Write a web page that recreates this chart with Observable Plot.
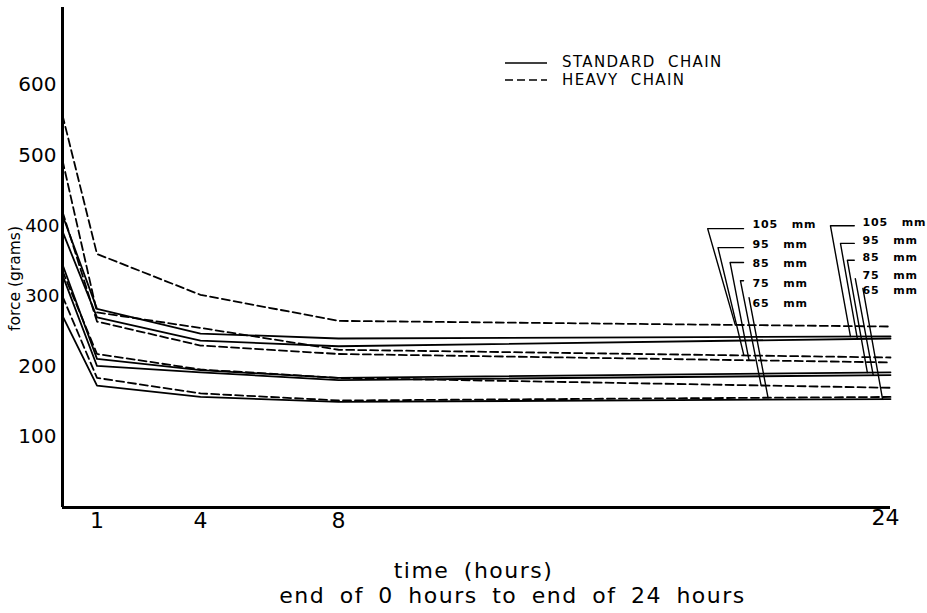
<!DOCTYPE html>
<html>
<head>
<meta charset="utf-8">
<script src="https://cdn.jsdelivr.net/npm/d3@7"></script>
<script src="https://cdn.jsdelivr.net/npm/@observablehq/plot@0.6"></script>
<style>
  body { margin: 0; background: #fff; }
  #wrap { position: relative; width: 927px; height: 613px; background: #fff; }
  .legtxt { position: absolute; font-family: "DejaVu Sans", sans-serif; font-size: 15px; letter-spacing: 1.4px; line-height: 16px; white-space: pre; color: #000; }
  .legline { position: absolute; }
</style>
</head>
<body>
<div id="wrap">
  <svg class="legline" style="left:505px;top:61px" width="44" height="4"><line x1="0" y1="2" x2="42" y2="2" stroke="#000" stroke-width="1.6"/></svg>
  <div class="legtxt" style="left:562px;top:54px">STANDARD  CHAIN</div>
  <svg class="legline" style="left:505px;top:78px" width="44" height="4"><line x1="0" y1="2" x2="42" y2="2" stroke="#000" stroke-width="1.6" stroke-dasharray="8,4"/></svg>
  <div class="legtxt" style="left:562px;top:72px">HEAVY  CHAIN</div>
</div>
<script>
// ---- data ----
const hours = [0, 1, 4, 8, 24];
const xTicks = [1, 4, 8];
const xTicksEnd = [24];
const yTicksOuter = [100, 200, 500, 600];
const yTicksInner = [300, 400];
const sizeLabels = ["105 mm", "95 mm", "85 mm", "75 mm", "65 mm"];

// standard chain (solid), force in grams at 0,1,4,8,24 h
const std105 = [415, 282, 247, 240, 243];
const std95  = [392, 270, 237, 229, 240];
const std85  = [345, 211, 195, 184, 192];
const std75  = [330, 201, 192, 181, 188];
const std65  = [272, 173, 157, 150, 154];

// heavy chain (dashed)
const hvy105 = [557, 360, 302, 265, 257];
const hvy95  = [493, 277, 255, 224, 213];
const hvy85  = [420, 264, 230, 218, 206];
const hvy75  = [336, 218, 196, 184, 170];
const hvy65  = [300, 184, 162, 152, 157];

// size-label annotations (hours, grams)
const hvyTextHour = 20.0;
const hvyTextForce = [402, 373, 346, 318, 290];
const hvyLeadForce = [396, 369, 348, 322, 298];
const hvyLeadStart = [19.74, 19.74, 19.74, 19.74, 19.9];
const hvyLeadCorner = [18.7, 19.0, 19.35, 19.65, 19.9];
const hvyLeadEnd = [19.5, 19.75, 19.9, 20.25, 20.45];

const stdTextHour = 23.19;
const stdTextForce = [405, 379, 355, 329, 308];
const stdLeadForce = [400, 375, 351, 325, 311];
const stdLeadStart = [22.95, 22.95, 22.95, 22.98, 23.2];
const stdLeadCorner = [22.26, 22.55, 22.75, 22.98, 23.2];
const stdLeadEnd = [22.84, 23.04, 23.33, 23.5, 23.77];

// ---- build tables ----
const standardSeries = [std105, std95, std85, std75, std65];
const heavySeries = [hvy105, hvy95, hvy85, hvy75, hvy65];

function toRows(series, chain) {
  const rows = [];
  series.forEach((vals, i) => vals.forEach((v, j) =>
    rows.push({chain, size: sizeLabels[i], hour: hours[j], force: v})));
  return rows;
}
const stdRows = toRows(standardSeries, "Standard chain");
const hvyRows = toRows(heavySeries, "Heavy chain");

function leaders(series, leadForce, start, corner, end) {
  const pts = [];
  sizeLabels.forEach((s, i) => {
    const v = series[i];
    const h = end[i];
    const fEnd = v[3] + (v[4] - v[3]) * (h - hours[3]) / (hours[4] - hours[3]);
    pts.push({id: s, hour: start[i], force: leadForce[i]},
             {id: s, hour: corner[i], force: leadForce[i]},
             {id: s, hour: h, force: fEnd});
  });
  return pts;
}
const hvyLeaders = leaders(heavySeries, hvyLeadForce, hvyLeadStart, hvyLeadCorner, hvyLeadEnd);
const stdLeaders = leaders(standardSeries, stdLeadForce, stdLeadStart, stdLeadCorner, stdLeadEnd);

const nb = "\u00a0\u00a0\u00a0";
const hvyLabels = sizeLabels.map((s, i) => ({text: s.replace(" ", nb), hour: hvyTextHour, force: hvyTextForce[i]}));
const stdLabels = sizeLabels.map((s, i) => ({text: s.replace(" ", nb), hour: stdTextHour, force: stdTextForce[i]}));

const font = "DejaVu Sans, sans-serif";
const xTitle1 = "time (hours)";
const xTitle2 = "end of 0 hours to end of 24 hours";

const chart = Plot.plot({
  width: 927,
  height: 613,
  marginLeft: 62,
  marginRight: 37,
  marginTop: 7,
  marginBottom: 106,
  style: {fontFamily: font, background: "#fff", color: "#000"},
  x: {domain: [0, 24]},
  y: {domain: [0, 710]},
  marks: [
    Plot.axisY({ticks: yTicksOuter, tickSize: 0, tickPadding: 6, fontSize: 20, label: null, fontFamily: font}),
    Plot.axisY({ticks: yTicksInner, tickSize: 0, tickPadding: 3, fontSize: 18, label: null, fontFamily: font}),
    Plot.axisX({ticks: xTicks, tickSize: 0, tickPadding: 5, fontSize: 22, label: null, fontFamily: font}),
    Plot.axisX({ticks: xTicksEnd, tickSize: 0, tickPadding: 4, dy: -2, dx: -5, fontSize: 22, label: null, fontFamily: font}),
    Plot.line(stdRows, {x: "hour", y: "force", z: "size", stroke: "#000", strokeWidth: 1.8}),
    Plot.line(hvyRows, {x: "hour", y: "force", z: "size", stroke: "#000", strokeWidth: 1.8, strokeDasharray: "8,4"}),
    Plot.line(hvyLeaders, {x: "hour", y: "force", z: "id", stroke: "#000", strokeWidth: 1.4}),
    Plot.line(stdLeaders, {x: "hour", y: "force", z: "id", stroke: "#000", strokeWidth: 1.4}),
    Plot.text(hvyLabels, {x: "hour", y: "force", text: "text", textAnchor: "start", fontSize: 11, fontWeight: "bold", fontFamily: font}),
    Plot.text(stdLabels, {x: "hour", y: "force", text: "text", textAnchor: "start", fontSize: 11, fontWeight: "bold", fontFamily: font}),
    Plot.ruleX([0], {stroke: "#000", strokeWidth: 3}),
    Plot.ruleY([0], {stroke: "#000", strokeWidth: 3}),
    Plot.text(["force (grams)"], {frameAnchor: "left", textAnchor: "middle", dx: -47, dy: 21, rotate: -90, fontSize: 15.5, fontFamily: font}),
    Plot.text([xTitle1], {frameAnchor: "bottom", dx: -3, dy: 70, fontSize: 22, fontFamily: font}),
    Plot.text([xTitle2], {frameAnchor: "bottom", dx: 36, dy: 95, fontSize: 22, fontFamily: font})
  ]
});
document.getElementById("wrap").prepend(chart);

d3.select(chart).selectAll("text")
  .filter(function() { return this.textContent === xTitle1 || this.textContent === xTitle2; })
  .style("letter-spacing", "1.5px").style("word-spacing", "6px");
d3.select(chart).selectAll("text")
  .filter(function() { return /mm$/.test(this.textContent); })
  .style("letter-spacing", "0.8px");
</script>
</body>
</html>
